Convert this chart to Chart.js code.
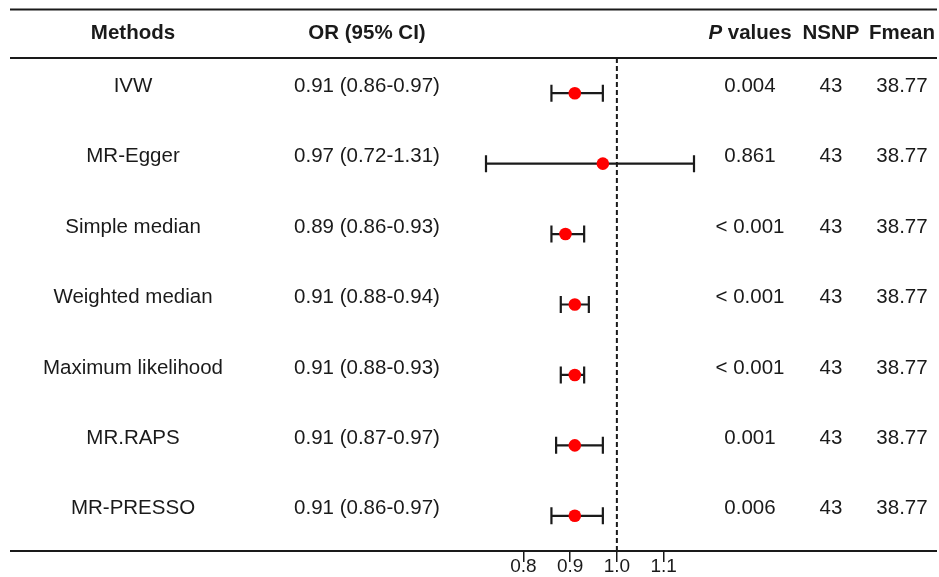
<!DOCTYPE html>
<html>
<head>
<meta charset="utf-8">
<script src="https://cdn.jsdelivr.net/npm/chart.js@4.4.1/dist/chart.umd.min.js"></script>
<style>
  html, body { margin: 0; padding: 0; background: #ffffff; }
  #wrap { width: 939px; height: 577px; }
</style>
</head>
<body>
<div id="wrap"><canvas id="forest" width="939" height="577"></canvas></div>
<script>
// =======================================
// DATA
// =======================================

const methods = ["IVW", "MR-Egger", "Simple median", "Weighted median",
                 "Maximum likelihood", "MR.RAPS", "MR-PRESSO"];

const orValues = [0.91, 0.97, 0.89, 0.91, 0.91, 0.91, 0.91];
const lowerCI  = [0.86, 0.72, 0.86, 0.88, 0.88, 0.87, 0.86];
const upperCI  = [0.97, 1.31, 0.93, 0.94, 0.93, 0.97, 0.97];

const pValues = ["0.004", "0.861", "< 0.001", "< 0.001", "< 0.001", "0.001", "0.006"];
const nsnp    = [43, 43, 43, 43, 43, 43, 43];
const fmean   = ["38.77", "38.77", "38.77", "38.77", "38.77", "38.77", "38.77"];

const xTicks = [0.8, 0.9, 1.0, 1.1];
const refLine = 1.0;

// =======================================
// LAYOUT / STYLE
// =======================================

const FONT = '"Liberation Sans", Arial, sans-serif';
const INK = "#1a1a1a";
const colX = { method: 133, or: 367, p: 750, nsnp: 831, fmean: 902 };
const ruleLeft = 10, ruleRight = 937;
const topRuleY = 9.5, headRuleY = 58;
const headerY = 33;
const textShift = -7;

// table text + rules
const tablePlugin = {
    id: "table",
    afterDraw(chart) {
        const ctx = chart.ctx;
        const ys = chart.scales.y;
        const area = chart.chartArea;

        ctx.save();
        ctx.strokeStyle = INK;
        ctx.lineWidth = 2;
        [topRuleY, headRuleY, area.bottom].forEach(y => {
            ctx.beginPath();
            ctx.moveTo(ruleLeft, y);
            ctx.lineTo(ruleRight, y);
            ctx.stroke();
        });

        ctx.fillStyle = INK;
        ctx.textBaseline = "middle";
        ctx.textAlign = "center";

        // header
        ctx.font = "bold 20.5px " + FONT;
        ctx.fillText("Methods", colX.method, headerY);
        ctx.fillText("OR (95% CI)", colX.or, headerY);
        ctx.fillText("NSNP", colX.nsnp, headerY);
        ctx.fillText("Fmean", colX.fmean, headerY);

        ctx.textAlign = "left";
        ctx.font = "italic bold 20.5px " + FONT;
        const wP = ctx.measureText("P").width;
        ctx.font = "bold 20.5px " + FONT;
        const wRest = ctx.measureText(" values").width;
        const startX = colX.p - (wP + wRest) / 2;
        ctx.font = "italic bold 20.5px " + FONT;
        ctx.fillText("P", startX, headerY);
        ctx.font = "bold 20.5px " + FONT;
        ctx.fillText(" values", startX + wP, headerY);

        // rows
        ctx.textAlign = "center";
        ctx.font = "20.5px " + FONT;
        methods.forEach((m, i) => {
            const y = ys.getPixelForValue(i) + textShift;
            const orText = orValues[i].toFixed(2) + " (" +
                lowerCI[i].toFixed(2) + "-" + upperCI[i].toFixed(2) + ")";
            ctx.fillText(m, colX.method, y);
            ctx.fillText(orText, colX.or, y);
            ctx.fillText(pValues[i], colX.p, y);
            ctx.fillText(String(nsnp[i]), colX.nsnp, y);
            ctx.fillText(fmean[i], colX.fmean, y);
        });
        ctx.restore();
    }
};

// reference line + error bars (under the points)
const whiskerPlugin = {
    id: "whiskers",
    beforeDatasetsDraw(chart) {
        const ctx = chart.ctx;
        const xs = chart.scales.x;
        const ys = chart.scales.y;
        const area = chart.chartArea;

        ctx.save();
        ctx.strokeStyle = INK;

        // dashed line at OR = 1
        const xr = xs.getPixelForValue(refLine);
        ctx.lineWidth = 2;
        ctx.setLineDash([5, 3]);
        ctx.beginPath();
        ctx.moveTo(xr, area.top);
        ctx.lineTo(xr, area.bottom);
        ctx.stroke();
        ctx.setLineDash([]);

        ctx.lineWidth = 2.2;
        const cap = 8.5;
        methods.forEach((m, i) => {
            const y = ys.getPixelForValue(i);
            const x1 = Math.max(area.left, xs.getPixelForValue(lowerCI[i]));
            const x2 = Math.min(area.right, xs.getPixelForValue(upperCI[i]));
            ctx.beginPath();
            ctx.moveTo(x1, y); ctx.lineTo(x2, y);
            ctx.moveTo(x1, y - cap); ctx.lineTo(x1, y + cap);
            ctx.moveTo(x2, y - cap); ctx.lineTo(x2, y + cap);
            ctx.stroke();
        });
        ctx.restore();
    }
};

// =======================================
// FOREST PLOT
// =======================================

const forestChart = new Chart(
document.getElementById("forest"),
{
    type: "scatter",

    data: {
        datasets: [{
            label: "OR",
            data: orValues.map((v, i) => ({ x: v, y: i })),
            backgroundColor: "#ff0000",
            borderWidth: 0,
            pointRadius: 6.3,
            pointHoverRadius: 6.3
        }]
    },

    options: {
        responsive: false,
        animation: false,
        layout: {
            padding: { left: 486, right: 245, top: 58, bottom: 0 }
        },
        plugins: {
            legend: { display: false },
            tooltip: { enabled: false }
        },
        scales: {
            x: {
                type: "linear",
                position: "bottom",
                min: 0.72,
                max: 1.165,
                border: { display: false },
                grid: {
                    drawOnChartArea: false,
                    drawTicks: true,
                    tickLength: 11,
                    color: INK,
                    lineWidth: 1.5
                },
                ticks: {
                    color: INK,
                    padding: -7,
                    font: { family: FONT, size: 19 },
                    callback: v => v.toFixed(1)
                },
                afterBuildTicks: scale => {
                    scale.ticks = xTicks.map(v => ({ value: v }));
                },
                afterFit: scale => {
                    scale.height = 26;
                }
            },
            y: {
                type: "linear",
                display: false,
                reverse: true,
                min: -0.5,
                max: 6.5
            }
        }
    },

    plugins: [whiskerPlugin, tablePlugin]
});
</script>
</body>
</html>
